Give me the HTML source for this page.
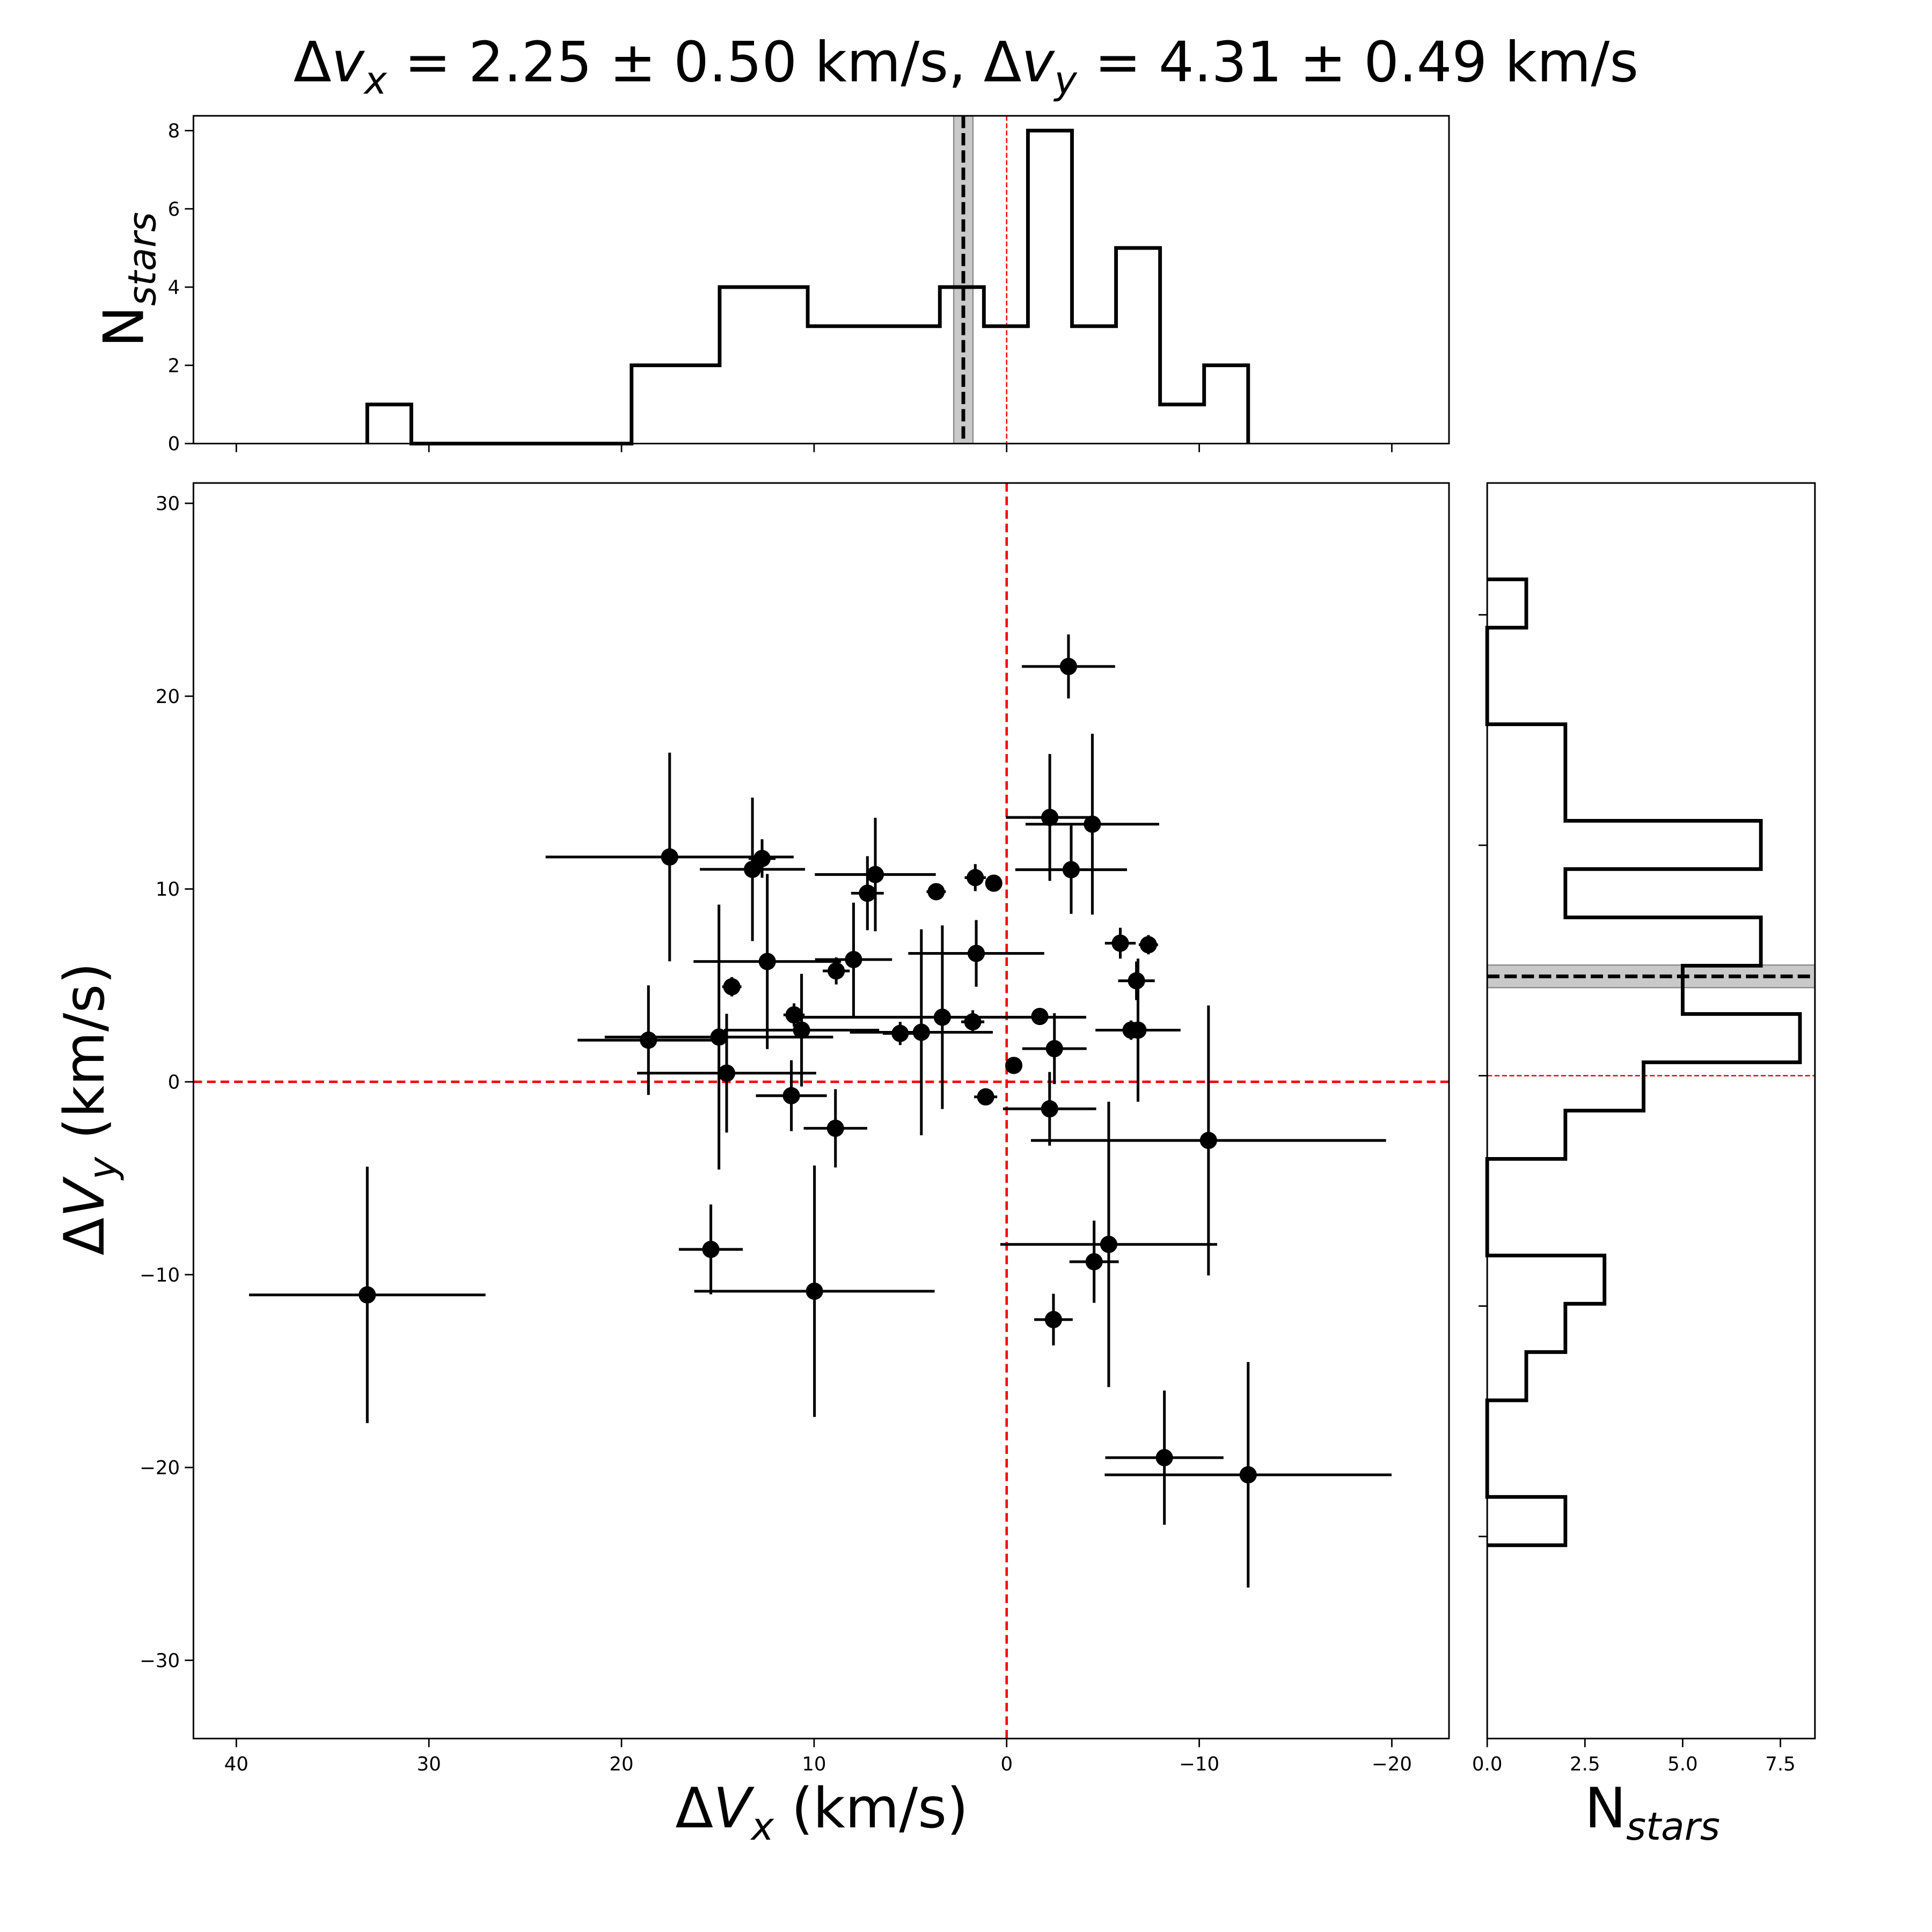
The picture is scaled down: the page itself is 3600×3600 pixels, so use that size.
<!DOCTYPE html>
<html><head><meta charset="utf-8"><style>
html,body{margin:0;padding:0;background:#fff}
svg{display:block}
text{font-family:"DejaVu Sans","Liberation Sans",sans-serif;fill:#000}
</style></head><body>
<svg id="fig" xmlns="http://www.w3.org/2000/svg" width="3600" height="3600" viewBox="0 0 1568 1568">
<rect x="0" y="0" width="1568" height="1568" fill="#fff"/>
<text x="784" y="66" font-size="45" text-anchor="middle">Δ<tspan font-style="italic">v</tspan><tspan font-style="italic" font-size="31" dy="10">x</tspan><tspan dy="-10"> = 2.25 ± 0.50 km/s, Δ</tspan><tspan font-style="italic">v</tspan><tspan font-style="italic" font-size="31" dy="10">y</tspan><tspan dy="-10"> = 4.31 ± 0.49 km/s</tspan></text>
<g id="main"></g>
<g id="top"></g>
<g id="right"></g>
</svg>
<script>
// ---- data ----
const vx  = [17.5,12.7,13.2,6.82,7.23,3.66,1.63,0.67,12.43,7.95,8.85,14.27,1.58,18.6,14.94,14.54,11.04,10.65,5.53,4.43,3.34,1.76,11.18,8.89,1.09,-0.37,
  -3.21,-2.24,-4.45,-3.35,-5.9,-7.36,-6.74,-6.82,-6.46,-1.72,-2.48,-2.23,-10.48,-5.3,
  33.2,15.36,9.98,-4.54,-2.43,-8.19,-12.54];
const vy  = [11.66,11.58,11.02,10.75,9.78,9.86,10.59,10.3,6.24,6.34,5.75,4.93,6.66,2.16,2.32,0.45,3.47,2.68,2.51,2.57,3.35,3.11,-0.72,-2.41,-0.78,0.85,
  21.54,13.71,13.36,11.0,7.19,7.11,5.24,2.68,2.68,3.39,1.72,-1.4,-3.04,-8.43,
  -11.05,-8.69,-10.86,-9.33,-12.33,-19.49,-20.38];
const vxErr = [6.44,0.7,2.73,3.14,0.85,0.5,0.55,0.3,3.83,2.0,0.7,0.5,3.53,3.68,5.93,4.65,0.55,4.03,0.9,3.71,7.47,0.6,1.84,1.65,0.6,0.4,
  2.42,2.28,3.47,2.9,0.8,0.5,0.95,2.21,0.5,0.4,1.67,2.42,9.22,5.63,
  6.14,1.66,6.24,1.28,1.0,3.07,7.45];
const vyErr = [5.41,1.0,3.72,2.94,1.92,0.4,0.7,0.3,4.54,2.95,0.7,0.5,1.73,2.84,6.87,3.08,0.6,2.92,0.6,5.34,4.76,0.6,1.84,2.03,0.4,0.4,
  1.66,3.29,4.69,2.29,0.8,0.5,1.0,3.71,0.5,0.4,1.84,1.91,7.0,7.4,
  6.65,2.33,6.52,2.13,1.34,3.48,5.85];
const histXEdgeMin = -12.54, histXEdgeMax = 33.2;
const histXCounts = [2,1,5,3,8,3,4,3,3,3,4,4,2,2,0,0,0,0,0,1]; // from low vx to high vx
const histYEdgeMin = -20.38, histYEdgeMax = 21.54;
const histYCounts = [2,0,0,1,2,3,0,0,2,4,8,5,7,2,7,2,2,0,0,1]; // from low vy to high vy
const meanX = 2.25, meanXErr = 0.50, meanY = 4.31, meanYErr = 0.49;
const xTicks = [40,30,20,10,0,-10,-20];
const yTicks = [30,20,10,0,-10,-20,-30];
const topYTicks = [0,2,4,6,8];
const rightXTicks = [0,2.5,5,7.5];
const rightYTicks = [20,10,0,-10,-20];

// ---- axes ----
const M = {l:157,r:1176,t:392,b:1411};
const T = {l:157,r:1176,t:94,b:360};
const R = {l:1207,r:1473,t:392,b:1411};
const sx = v => 817 - 15.63*v;
const sy = v => 878 - 15.65*v;
const ty = c => 360 - 31.75*c;
const rx = c => 1207 + 31.73*c;
const ry = v => 873 - 18.7*v;
const NS='http://www.w3.org/2000/svg';
function mk(parent,tag,attrs){const e=document.createElementNS(NS,tag);for(const k in attrs)e.setAttribute(k,attrs[k]);parent.appendChild(e);return e;}
const fmt = v => (v<0?'\u2212':'')+Math.abs(v);
const TF = 15.5;

// main panel
const gM=document.getElementById('main');
for(const v of xTicks){
  const t=mk(gM,'line',{x1:sx(v),x2:sx(v),y1:M.b,y2:M.b+7,stroke:'#000','stroke-width':1.2});
  
  
  const l=mk(gM,'text',{x:sx(v),y:M.b+26,'font-size':TF,'text-anchor':'middle'});l.textContent=fmt(v);
  
  
}
for(const v of yTicks){
  const t=mk(gM,'line',{x1:M.l-7,x2:M.l,y1:sy(v),y2:sy(v),stroke:'#000','stroke-width':1.2});
  
  
  const l=mk(gM,'text',{x:M.l-11,y:sy(v)+5.5,'font-size':TF,'text-anchor':'end'});l.textContent=fmt(v);
  
  
}
let e;
e=mk(gM,'line',{x1:sx(0),x2:sx(0),y1:M.t,y2:M.b,stroke:'#f00','stroke-width':2,'stroke-dasharray':'7,4'});


e=mk(gM,'line',{x1:M.l,x2:M.r,y1:sy(0),y2:sy(0),stroke:'#f00','stroke-width':2,'stroke-dasharray':'7,4'});


for(let i=0;i<vx.length;i++){
  const g=mk(gM,'g',{});
  
  
  mk(g,'line',{x1:sx(vx[i]-vxErr[i]),x2:sx(vx[i]+vxErr[i]),y1:sy(vy[i]),y2:sy(vy[i]),stroke:'#000','stroke-width':2.2});
  mk(g,'line',{x1:sx(vx[i]),x2:sx(vx[i]),y1:sy(vy[i]-vyErr[i]),y2:sy(vy[i]+vyErr[i]),stroke:'#000','stroke-width':2.2});
  mk(g,'circle',{cx:sx(vx[i]),cy:sy(vy[i]),r:7,fill:'#000'});
}
e=mk(gM,'rect',{x:M.l,y:M.t,width:M.r-M.l,height:M.b-M.t,fill:'none',stroke:'#000','stroke-width':1.3});


e=mk(gM,'text',{x:667,y:1483,'font-size':45,'text-anchor':'middle'});
e.innerHTML='Δ<tspan font-style="italic">V</tspan><tspan font-style="italic" font-size="31" dy="10">x</tspan><tspan dy="-10"> (km/s)</tspan>';


e=mk(gM,'text',{x:0,y:0,'font-size':45,'text-anchor':'middle',transform:'translate(84,900) rotate(-90)'});
e.innerHTML='Δ<tspan font-style="italic">V</tspan><tspan font-style="italic" font-size="31" dy="10">y</tspan><tspan dy="-10"> (km/s)</tspan>';



// top histogram
const gT=document.getElementById('top');
for(const v of xTicks){
  e=mk(gT,'line',{x1:sx(v),x2:sx(v),y1:T.b,y2:T.b+7,stroke:'#000','stroke-width':1.2});
  
  
}
for(const c of topYTicks){
  e=mk(gT,'line',{x1:T.l-7,x2:T.l,y1:ty(c),y2:ty(c),stroke:'#000','stroke-width':1.2});
  
  
  const l=mk(gT,'text',{x:T.l-11,y:ty(c)+5.5,'font-size':TF,'text-anchor':'end'});l.textContent=c;
  
  
}
e=mk(gT,'rect',{x:sx(meanX+meanXErr),y:T.t,width:sx(meanX-meanXErr)-sx(meanX+meanXErr),height:T.b-T.t,fill:'#bbb','fill-opacity':0.8,stroke:'#888','stroke-width':1});


e=mk(gT,'line',{x1:sx(0),x2:sx(0),y1:T.t,y2:T.b,stroke:'#f00','stroke-width':1.1,'stroke-dasharray':'4,2'});


{
  const w=(histXEdgeMax-histXEdgeMin)/histXCounts.length;
  let d=`M${sx(histXEdgeMin)},${ty(0)}`;
  histXCounts.forEach((c,i)=>{const a=histXEdgeMin+i*w,b=a+w;d+=`L${sx(a)},${ty(c)}L${sx(b)},${ty(c)}`;});
  d+=`L${sx(histXEdgeMax)},${ty(0)}`;
  e=mk(gT,'path',{d:d,fill:'none',stroke:'#000','stroke-width':3});
  
  
}
e=mk(gT,'line',{x1:sx(meanX),x2:sx(meanX),y1:T.t,y2:T.b,stroke:'#000','stroke-width':3,'stroke-dasharray':'10,4'});


e=mk(gT,'rect',{x:T.l,y:T.t,width:T.r-T.l,height:T.b-T.t,fill:'none',stroke:'#000','stroke-width':1.3});


e=mk(gT,'text',{x:0,y:0,'font-size':45,'text-anchor':'middle',transform:'translate(116,227) rotate(-90)'});
e.innerHTML='N<tspan font-style="italic" font-size="31" dy="10">stars</tspan>';



// right histogram
const gR=document.getElementById('right');
for(const c of rightXTicks){
  e=mk(gR,'line',{x1:rx(c),x2:rx(c),y1:R.b,y2:R.b+7,stroke:'#000','stroke-width':1.2});
  
  
  const l=mk(gR,'text',{x:rx(c),y:R.b+26,'font-size':TF,'text-anchor':'middle'});l.textContent=c.toFixed(1);
  
  
}
for(const v of rightYTicks){
  e=mk(gR,'line',{x1:R.l-7,x2:R.l,y1:ry(v),y2:ry(v),stroke:'#000','stroke-width':1.2});
  
  
}
e=mk(gR,'rect',{x:R.l,y:ry(meanY+meanYErr),width:R.r-R.l,height:ry(meanY-meanYErr)-ry(meanY+meanYErr),fill:'#bbb','fill-opacity':0.8,stroke:'#888','stroke-width':1});


e=mk(gR,'line',{x1:R.l,x2:R.r,y1:ry(0),y2:ry(0),stroke:'#f00','stroke-width':1.1,'stroke-dasharray':'4,2'});


{
  const w=(histYEdgeMax-histYEdgeMin)/histYCounts.length;
  let d=`M${rx(0)},${ry(histYEdgeMin)}`;
  histYCounts.forEach((c,i)=>{const a=histYEdgeMin+i*w,b=a+w;d+=`L${rx(c)},${ry(a)}L${rx(c)},${ry(b)}`;});
  d+=`L${rx(0)},${ry(histYEdgeMax)}`;
  e=mk(gR,'path',{d:d,fill:'none',stroke:'#000','stroke-width':3});
  
  
}
e=mk(gR,'line',{x1:R.l,x2:R.r,y1:ry(meanY),y2:ry(meanY),stroke:'#000','stroke-width':3,'stroke-dasharray':'10,4'});


e=mk(gR,'rect',{x:R.l,y:R.t,width:R.r-R.l,height:R.b-R.t,fill:'none',stroke:'#000','stroke-width':1.3});


e=mk(gR,'text',{x:1341,y:1483,'font-size':45,'text-anchor':'middle'});
e.innerHTML='N<tspan font-style="italic" font-size="31" dy="10">stars</tspan>';


</script>
</body></html>
